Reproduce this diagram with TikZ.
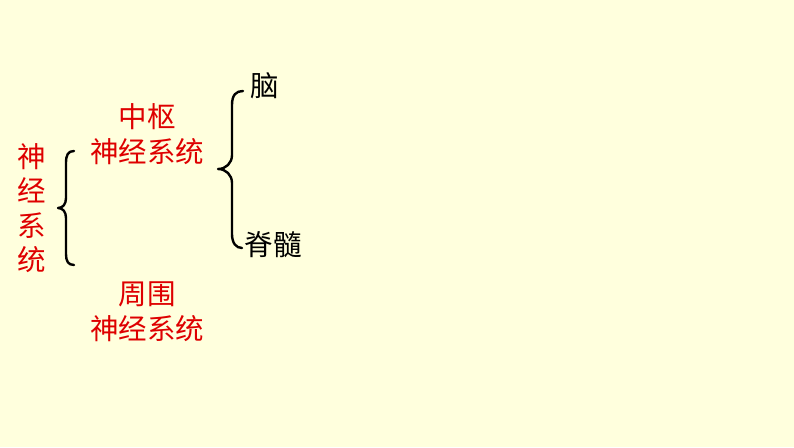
\documentclass[tikz,border=0pt]{standalone}
\usepackage{fontspec}
\newfontfamily\cjk{Noto Sans CJK SC}
\definecolor{bgyellow}{RGB}{255,255,221}
\definecolor{txtred}{RGB}{222,0,0}
\begin{document}
\begin{tikzpicture}[x=1pt,y=-1pt,
  redlabel/.style={font=\cjk\fontsize{28.5}{35}\selectfont, text=txtred, align=center, inner sep=0pt},
  blacklabel/.style={font=\cjk\fontsize{28.5}{35}\selectfont, text=black, inner sep=0pt},
  bracepath/.style={draw=black, line width=2.4pt, line cap=round, line join=round}]
\fill[bgyellow] (0,0) rectangle (794,447);
\useasboundingbox (0,0) rectangle (794,447);
% labels
\node[redlabel, text width=30pt, font=\cjk\fontsize{28.5}{34.5}\selectfont] (ns) at (32,208) {神\\经\\系\\统};
\node[redlabel] (cns) at (147,134) {中枢\\神经系统};
\node[redlabel] (pns) at (147,312) {周围\\神经系统};
\node[blacklabel] (brain) at (265,86) {脑};
\node[blacklabel] (cord) at (273,245) {脊髓};
% left brace
\coordinate (lt) at (74,151);
\coordinate (lb) at (74,265);
\coordinate (lk) at (58,208);
\draw[bracepath] (lt) .. controls (68,151) and (66,155) .. (66,163) -- (66,198)
  .. controls (66,204) and (63,208) .. (lk)
  .. controls (63,208) and (66,212) .. (66,218) -- (66,254)
  .. controls (66,261) and (68,265) .. (lb);
% right brace
\coordinate (rt) at (243,91);
\coordinate (rb) at (242,248);
\coordinate (rk) at (218,169);
\draw[bracepath] (rt) .. controls (236,91) and (232,95) .. (232,105) -- (232,155)
  .. controls (232,163) and (226,169) .. (rk)
  .. controls (226,169) and (232,175) .. (232,183) -- (232,234)
  .. controls (232,243) and (236,248) .. (rb);
\end{tikzpicture}
\end{document}
